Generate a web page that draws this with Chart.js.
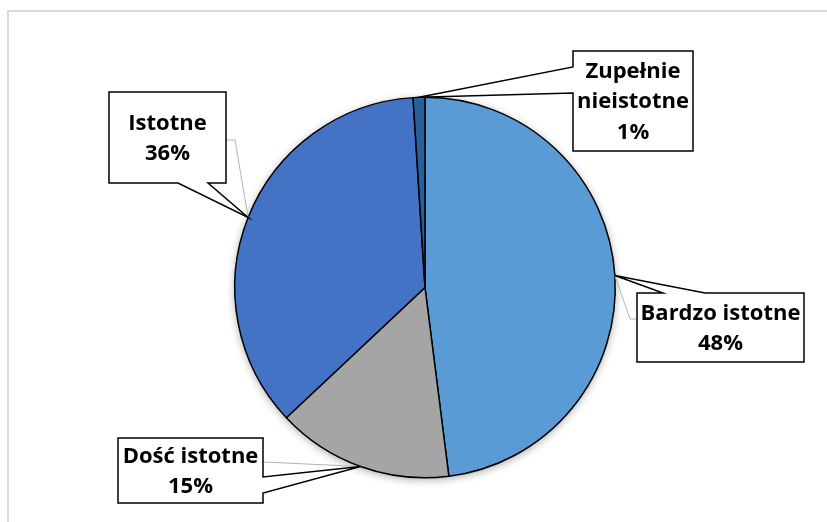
<!DOCTYPE html>
<html>
<head>
<meta charset="utf-8">
<script src="https://cdn.jsdelivr.net/npm/chart.js@4"></script>
<style>
  html, body { margin: 0; padding: 0; background: #fff; }
  #wrap { position: relative; width: 827px; height: 522px; overflow: hidden; }
  #frame { position: absolute; left: 7px; top: 10px; width: 900px; height: 600px;
           border-left: 2px solid #d9d9d9; border-top: 2px solid #d9d9d9; box-sizing: border-box; }
  canvas { position: absolute; left: 0; top: 0; }
</style>
</head>
<body>
<div id="wrap">
  <div id="frame"></div>
  <canvas id="c" width="827" height="522"></canvas>
</div>
<script>
// Survey answers and their shares (%)
const categories = ['Bardzo istotne', 'Dość istotne', 'Istotne', 'Zupełnie nieistotne'];
const shares = [48, 15, 36, 1];
const labelLines = [['Bardzo istotne'], ['Dość istotne'], ['Istotne'], ['Zupełnie', 'nieistotne']];
const sliceColors = ['#5B9BD5', '#A5A5A5', '#4472C4', '#2A6099'];

// Callout boxes: position, wedge edge and wedge base span, grey leader route
const callouts = [
  { x: 637, y: 293, w: 167, h: 69, edge: 'top', a: 663, b: 705, leader: [[630, 319], [637, 319]] },
  { x: 118, y: 438, w: 145, h: 65, edge: 'right', a: 477, b: 493, leader: [[263, 462]] },
  { x: 109, y: 92, w: 117, h: 91, edge: 'bottom', a: 178, b: 208, leader: [[235, 140], [226, 140]] },
  { x: 573, y: 51, w: 120, h: 100, edge: 'left', a: 67, b: 93, leader: null }
];

// Soft shadow under the pie
const pieShadow = {
  id: 'pieShadow',
  beforeDatasetsDraw(chart) {
    const arc = chart.getDatasetMeta(0).data[0];
    if (!arc) return;
    const ctx = chart.ctx;
    ctx.save();
    ctx.shadowColor = 'rgba(0,0,0,0.35)';
    ctx.shadowBlur = 9;
    ctx.shadowOffsetY = 2;
    ctx.fillStyle = '#fff';
    ctx.beginPath();
    ctx.arc(arc.x, arc.y, arc.outerRadius, 0, Math.PI * 2);
    ctx.fill();
    ctx.restore();
  }
};

// Wedge-shaped data callouts with value labels
const calloutLabels = {
  id: 'calloutLabels',
  afterDatasetsDraw(chart) {
    const ctx = chart.ctx;
    const meta = chart.getDatasetMeta(0);
    const total = shares.reduce((s, v) => s + v, 0);
    meta.data.forEach((arc, i) => {
      const c = callouts[i];
      const mid = (arc.startAngle + arc.endAngle) / 2;
      const tip = [arc.x + Math.cos(mid) * arc.outerRadius, arc.y + Math.sin(mid) * arc.outerRadius];

      ctx.save();
      // thin grey leader line
      if (c.leader) {
        ctx.strokeStyle = '#b4b4b4';
        ctx.lineWidth = 1;
        ctx.beginPath();
        ctx.moveTo(tip[0], tip[1]);
        c.leader.forEach(p => ctx.lineTo(p[0], p[1]));
        ctx.stroke();
      }
      // box with pointer
      const x0 = c.x, y0 = c.y, x1 = c.x + c.w, y1 = c.y + c.h;
      ctx.beginPath();
      ctx.moveTo(x0, y0);
      if (c.edge === 'top') { ctx.lineTo(c.a, y0); ctx.lineTo(tip[0], tip[1]); ctx.lineTo(c.b, y0); }
      ctx.lineTo(x1, y0);
      if (c.edge === 'right') { ctx.lineTo(x1, c.a); ctx.lineTo(tip[0], tip[1]); ctx.lineTo(x1, c.b); }
      ctx.lineTo(x1, y1);
      if (c.edge === 'bottom') { ctx.lineTo(c.b, y1); ctx.lineTo(tip[0], tip[1]); ctx.lineTo(c.a, y1); }
      ctx.lineTo(x0, y1);
      if (c.edge === 'left') { ctx.lineTo(x0, c.b); ctx.lineTo(tip[0], tip[1]); ctx.lineTo(x0, c.a); }
      ctx.closePath();
      ctx.fillStyle = '#fff';
      ctx.fill();
      ctx.strokeStyle = '#000';
      ctx.lineWidth = 1.5;
      ctx.lineJoin = 'miter';
      ctx.stroke();

      // text
      const lines = labelLines[i].concat([Math.round(shares[i] / total * 100) + '%']);
      ctx.fillStyle = '#000';
      ctx.font = 'bold 22px "Open Sans"';
      ctx.textAlign = 'center';
      ctx.textBaseline = 'middle';
      const lh = 30.5;
      const cx = x0 + c.w / 2;
      const cy = y0 + c.h / 2 - (lines.length - 1) * lh / 2;
      lines.forEach((t, k) => ctx.fillText(t, cx, cy + k * lh + 1));
      ctx.restore();
    });
  }
};

new Chart(document.getElementById('c'), {
  type: 'pie',
  data: {
    labels: categories,
    datasets: [{
      data: shares,
      backgroundColor: sliceColors,
      borderColor: '#000',
      borderWidth: 1.5
    }]
  },
  options: {
    responsive: false,
    animation: false,
    layout: { padding: { top: 96, bottom: 43, left: 234, right: 211 } },
    plugins: {
      legend: { display: false },
      tooltip: { enabled: false }
    }
  },
  plugins: [pieShadow, calloutLabels]
});
</script>
</body>
</html>
